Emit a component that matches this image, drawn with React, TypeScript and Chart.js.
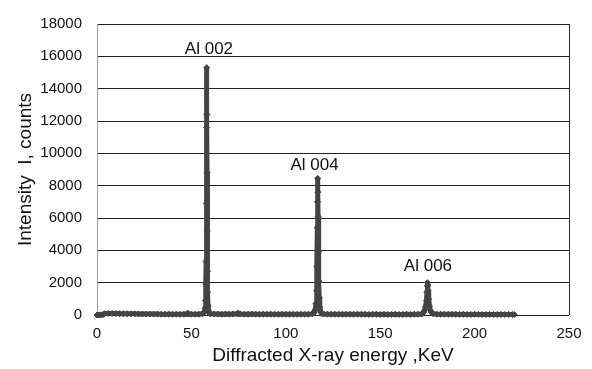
import React, { useEffect, useRef } from "react";
import { Chart, registerables } from "chart.js";

Chart.register(...registerables);

// Diffracted X-ray energy (keV)
const energies: number[] = [
  0, 1, 2, 3, 4, 6, 8, 10, 12, 14, 16, 18, 20, 22, 24, 26, 28, 30, 32, 34, 36, 38, 40, 42, 44, 46, 47.5, 48, 48.5, 50, 52, 54, 56,
  57.0, 57.3, 57.5, 57.7, 57.8, 57.9, 58.0, 58.1, 58.2, 58.3, 58.4, 58.5, 58.6, 58.8, 59.0, 59.4,
  60, 62, 64, 66, 68, 70, 72, 74, 74.6, 75.2, 76, 78, 80, 82, 84, 86, 88, 90, 92, 94, 96, 98, 100, 102, 104, 106, 108, 110, 112, 114,
  115, 115.5, 116.0, 116.3, 116.5, 116.7, 116.8, 116.9, 117.0, 117.1, 117.3, 117.5, 117.7, 118.0, 118.5, 119,
  120, 122, 124, 126, 128, 130, 132, 134, 136, 138, 140, 142, 144, 146, 148, 150, 152, 154, 156, 158, 160, 162, 164, 166, 168, 170, 172,
  173, 173.5, 174.0, 174.5, 174.8, 175.0, 175.1, 175.2, 175.4, 175.7, 176.1, 176.6, 177.2, 178,
  180, 182, 184, 186, 188, 190, 192, 194, 196, 198, 200, 202, 204, 206, 208, 210, 212, 214, 216, 218, 220, 221,
];

// Intensity (counts)
const counts: number[] = [
  0, 5, 10, 15, 80, 100, 95, 90, 85, 80, 75, 70, 70, 65, 65, 60, 60, 55, 55, 50, 50, 50, 45, 45, 40, 45, 60, 110, 60, 50, 45, 50, 90,
  200, 420, 900, 1900, 3300, 6900, 11600, 15300, 12400, 8800, 5200, 2700, 1400, 600, 300, 130,
  70, 60, 55, 50, 55, 50, 60, 70, 110, 70, 60, 50, 50, 55, 50, 45, 50, 45, 50, 45, 45, 50, 45, 40, 45, 40, 45, 40, 45, 70,
  150, 300, 700, 1500, 3000, 5400, 7000, 8450, 7600, 6100, 3900, 2100, 1100, 500, 200, 90,
  60, 50, 45, 50, 45, 40, 45, 40, 40, 45, 40, 40, 35, 40, 40, 35, 40, 35, 35, 40, 35, 35, 40, 35, 40, 40, 60,
  150, 280, 500, 900, 1400, 1800, 2000, 1850, 1500, 1000, 550, 280, 150, 80,
  50, 45, 45, 40, 40, 40, 35, 40, 35, 35, 40, 35, 35, 30, 35, 35, 30, 35, 30, 30, 30, 30,
];

// Peak labels
const peakLabels: string[] = ["Al 002", "Al 004", "Al 006"];
const peakLabelX: number[] = [59.3, 115.2, 175.3];
const peakLabelY: number[] = [16450, 9250, 3000];

const xTitle = "Diffracted X-ray energy ,KeV";
const yTitle = "Intensity  I, counts";

const FONT = "'Liberation Sans', Arial, Helvetica, sans-serif";
const DARK = "#444444";

export default function App() {
  const ref = useRef<HTMLCanvasElement | null>(null);

  useEffect(() => {
    if (!ref.current) return;

    const peakLabelPlugin = {
      id: "peakLabels",
      afterDatasetsDraw(chart: any) {
        const { ctx, scales } = chart;
        ctx.save();
        ctx.font = `17px ${FONT}`;
        ctx.fillStyle = "#111111";
        ctx.textAlign = "center";
        ctx.textBaseline = "middle";
        peakLabels.forEach((t, i) => {
          ctx.fillText(t, scales.x.getPixelForValue(peakLabelX[i]), scales.y.getPixelForValue(peakLabelY[i]));
        });
        ctx.restore();
      },
    };

    const borderPlugin = {
      id: "rightBorder",
      beforeDatasetsDraw(chart: any) {
        const { ctx, chartArea } = chart;
        ctx.save();
        ctx.strokeStyle = "#333333";
        ctx.lineWidth = 1;
        ctx.beginPath();
        ctx.moveTo(Math.round(chartArea.right) + 0.5, chartArea.top);
        ctx.lineTo(Math.round(chartArea.right) + 0.5, chartArea.bottom);
        ctx.stroke();
        ctx.restore();
      },
    };

    const chart = new Chart(ref.current, {
      type: "line",
      data: {
        datasets: [
          {
            data: energies.map((x, i) => ({ x, y: counts[i] })),
            borderColor: DARK,
            backgroundColor: DARK,
            borderWidth: 5,
            pointStyle: "rectRot",
            pointRadius: 3,
            pointBorderWidth: 1,
            pointBackgroundColor: DARK,
            pointBorderColor: DARK,
            tension: 0,
            clip: 6,
          },
        ],
      },
      options: {
        animation: false,
        responsive: false,
        events: [],
        layout: { padding: { left: 0, right: 23, top: 17, bottom: 0 } },
        plugins: { legend: { display: false }, tooltip: { enabled: false } },
        scales: {
          x: {
            type: "linear",
            min: 0,
            max: 250,
            afterFit: (s: any) => {
              s.height = 54;
            },
            ticks: {
              stepSize: 50,
              padding: 10,
              maxRotation: 0,
              color: "#111111",
              font: { family: FONT, size: 15 },
              callback: (v: any) => String(v),
            },
            grid: { display: false, drawTicks: false },
            border: { display: false },
            title: {
              display: true,
              text: xTitle,
              color: "#111111",
              font: { family: FONT, size: 19 },
              padding: { top: 0, bottom: 2 },
            },
          },
          y: {
            type: "linear",
            min: 0,
            max: 18000,
            afterFit: (s: any) => {
              s.width = 97;
            },
            ticks: {
              stepSize: 2000,
              padding: 15,
              color: "#111111",
              font: { family: FONT, size: 15 },
              callback: (v: any) => String(v),
            },
            grid: { color: "#222222", lineWidth: 1, drawTicks: false },
            border: { display: true, color: "#999999", width: 1 },
            title: {
              display: true,
              text: yTitle,
              color: "#111111",
              font: { family: FONT, size: 19 },
              padding: { top: 14, bottom: 0 },
            },
          },
        },
      },
      plugins: [peakLabelPlugin, borderPlugin],
    });

    return () => chart.destroy();
  }, []);

  return (
    <div style={{ position: "absolute", left: 0, top: 0, width: 592, height: 369, background: "#ffffff" }}>
      <canvas ref={ref} width={592} height={369} />
    </div>
  );
}
